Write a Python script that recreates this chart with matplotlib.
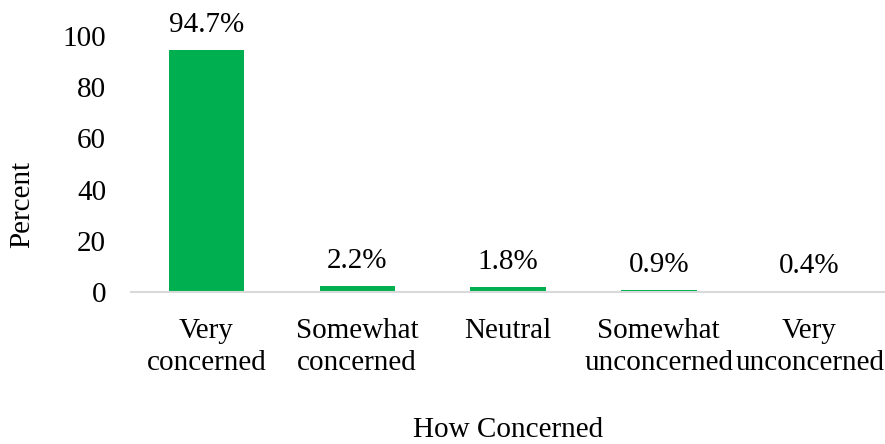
import matplotlib.pyplot as plt

categories = ['Very\nconcerned', 'Somewhat\nconcerned', 'Neutral', 'Somewhat\nunconcerned', 'Very\nunconcerned']
percents = [94.7, 2.2, 1.8, 0.9, 0.4]
bar_labels = ['94.7%', '2.2%', '1.8%', '0.9%', '0.4%']
yticks = [0, 20, 40, 60, 80, 100]

plt.rcParams['font.family'] = ['Liberation Serif', 'DejaVu Serif']
fs = 21

fig = plt.figure(figsize=(8.85, 4.44), dpi=100)
W, H = 885, 444
ax = fig.add_axes([131 / W, (H - 292) / H, (885 - 131) / W, (292 - 36) / H])

x = list(range(len(categories)))
ax.bar(x, percents, width=0.5, color='#00B050')
for xi, v, lab in zip(x, percents, bar_labels):
    ax.annotate(lab, (xi, v), xytext=(0, 18), textcoords='offset points',
                ha='center', va='center', fontsize=fs, annotation_clip=False)

ax.set_xlim(-0.5, 4.5)
ax.set_ylim(0, 100)
ax.set_yticks(yticks)
ax.set_yticklabels([str(t) for t in yticks], fontsize=fs)
ax.set_xticks(x)
ax.set_xticklabels(categories, fontsize=fs, linespacing=1.28)
ax.tick_params(axis='both', length=0)
ax.tick_params(axis='y', pad=18)
ax.tick_params(axis='x', pad=19)
for s in ['top', 'right', 'left']:
    ax.spines[s].set_visible(False)
ax.spines['bottom'].set_color('#d9d9d9')
ax.spines['bottom'].set_linewidth(1.5)

fig.text(22 / W, 1 - 204 / H, 'Percent', rotation=90, ha='center', va='center', fontsize=fs)
fig.text(508 / W, 1 - 430 / H, 'How Concerned', ha='center', va='center', fontsize=fs)

fig.savefig('out.png', dpi=100)
